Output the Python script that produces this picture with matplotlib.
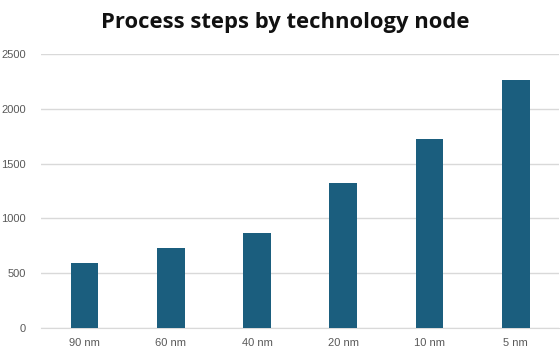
import matplotlib.pyplot as plt

nodes = ["90 nm", "60 nm", "40 nm", "20 nm", "10 nm", "5 nm"]
steps = [590, 730, 867, 1326, 1722, 2263]
yticks = [0, 500, 1000, 1500, 2000, 2500]

bar_color = "#1b5e7e"
grid_color = "#d9d9d9"
label_color = "#595959"

fig = plt.figure(figsize=(5.6, 3.56), dpi=100)
ax = fig.add_axes([0.074, 0.079, 0.924, 0.769])

ax.bar(range(len(nodes)), steps, width=0.32, color=bar_color, zorder=3)

ax.set_xlim(-0.5, len(nodes) - 0.5)
ax.set_ylim(0, 2500)
ax.set_yticks(yticks)
ax.set_yticklabels([str(v) for v in yticks])
ax.set_xticks(range(len(nodes)))
ax.set_xticklabels(nodes)

ax.yaxis.grid(True, color=grid_color, linewidth=1, zorder=0)
for s in ["top", "right", "left"]:
    ax.spines[s].set_visible(False)
ax.spines["bottom"].set_color(grid_color)
ax.tick_params(axis="both", length=0, labelsize=8, labelcolor=label_color)
ax.tick_params(axis="y", pad=11)
ax.tick_params(axis="x", pad=7)
for lbl in ax.get_xticklabels() + ax.get_yticklabels():
    lbl.set_family("Liberation Sans")

fig.text(0.51, 0.936, "Process steps by technology node", ha="center", va="center",
         fontsize=15.8, fontweight="bold", family="Open Sans", color="#111111")

plt.savefig("out.png", dpi=100)
